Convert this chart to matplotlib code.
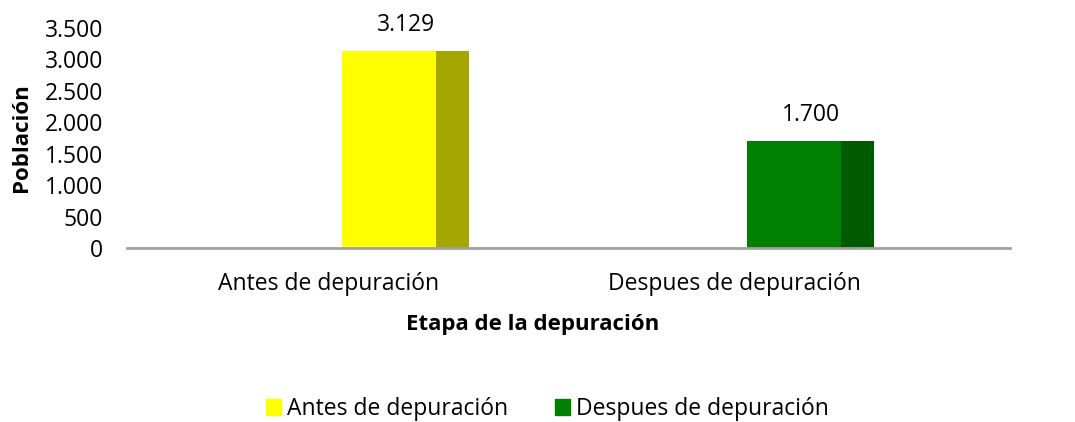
import matplotlib.pyplot as plt
from matplotlib.patches import Patch

# datos del grafico
categorias = ["Antes de depuración", "Despues de depuración"]
poblacion = [3129, 1700]
color_frente = ["#FFFF00", "#008000"]
color_lado = ["#A6A600", "#005A00"]

plt.rcParams['font.family'] = ['Open Sans', 'DejaVu Sans']
fs = 16.5

fig = plt.figure(figsize=(10.75, 4.22), dpi=100)
ax = fig.add_axes([0.118, 0.4123, 0.8215, 0.5213])

# desplazamiento de cada barra respecto a su categoria (efecto 3D de Excel)
desp = [-0.0125, -0.095]
ancho_frente = 0.212
ancho_lado = 0.076
desp_etiqueta = [-0.043, -0.125]

for i, v in enumerate(poblacion):
    x0 = i + desp[i]
    ax.bar(x0, v, width=ancho_frente, align='edge', color=color_frente[i], linewidth=0)
    ax.bar(x0 + ancho_frente, v, width=ancho_lado, align='edge', color=color_lado[i], linewidth=0)
    texto = f"{v:,}".replace(",", ".")
    ax.text(x0 + (ancho_frente + ancho_lado) / 2, v + 320, texto,
            ha='center', va='baseline', fontsize=fs)

ax.set_xlim(-0.5, 1.5)
ax.set_ylim(0, 3500)
ax.set_yticks(range(0, 3501, 500))
ax.set_yticklabels([f"{t:,}".replace(",", ".") for t in range(0, 3501, 500)], fontsize=fs)
ax.set_xticks([i + d for i, d in enumerate(desp_etiqueta)])
ax.set_xticklabels(categorias, fontsize=fs)
ax.tick_params(axis='both', length=0)
ax.tick_params(axis='x', pad=17)
ax.tick_params(axis='y', pad=17)

for s in ['top', 'right', 'left']:
    ax.spines[s].set_visible(False)
ax.spines['bottom'].set_color('#A0A0A0')
ax.spines['bottom'].set_linewidth(2)

ax.set_ylabel("Población", fontsize=16, fontweight='bold', labelpad=9)
ax.set_xlabel("Etapa de la depuración", fontsize=16, fontweight='bold', labelpad=13, x=0.46)

handles = [Patch(color=c) for c in color_frente]
fig.legend(handles, categorias, loc='center', bbox_to_anchor=(0.509, 0.031),
           ncol=2, frameon=False, fontsize=fs, handlelength=0.65, handleheight=0.65,
           handletextpad=0.26, columnspacing=2.05, borderpad=0)

fig.savefig("out.png", dpi=100)
